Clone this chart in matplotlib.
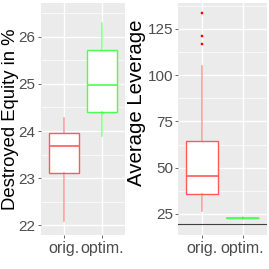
import matplotlib
matplotlib.use("Agg")
import matplotlib.pyplot as plt
from matplotlib.ticker import MultipleLocator

plt.rcParams['font.family'] = ['Liberation Sans', 'DejaVu Sans']

categories = ["orig.", "optim."]

# Destroyed equity (%) box stats: whislo, q1, median, q3, whishi
equity_whislo = [22.08, 23.89]
equity_q1 = [23.10, 24.40]
equity_med = [23.68, 24.97]
equity_q3 = [23.96, 25.72]
equity_whishi = [24.28, 26.30]
equity_fliers = [[], []]

# Average leverage box stats
lev_whislo = [26.8, 23.0]
lev_q1 = [35.8, 23.0]
lev_med = [45.7, 23.0]
lev_q3 = [64.6, 23.0]
lev_whishi = [105.0, 23.0]
lev_fliers = [[116.7, 120.8, 133.5], [23.0]]
lev_hline = 19.4

colors = ["#FF5A5A", "#4DFF4D"]
flier_colors = ["#FF0000", "#00EE00"]


def make_stats(lo, q1, med, q3, hi, fl):
    return [dict(whislo=lo[i], q1=q1[i], med=med[i], q3=q3[i], whishi=hi[i],
                 fliers=fl[i], label=categories[i]) for i in range(len(categories))]


def style(ax, ylim, major, ylabel, lsize, lcoords):
    ax.set_facecolor("#EBEBEB")
    for s in ax.spines.values():
        s.set_visible(False)
    ax.set_ylim(*ylim)
    ax.set_xlim(0.4, 2.6)
    ax.yaxis.set_major_locator(MultipleLocator(major))
    ax.yaxis.set_minor_locator(MultipleLocator(major / 2))
    ax.grid(True, which="major", color="white", linewidth=1.0)
    ax.grid(True, which="minor", axis="y", color="white", linewidth=0.5)
    ax.set_axisbelow(True)
    ax.tick_params(axis="y", which="major", colors="#4D4D4D", labelsize=11,
                   length=2.5, width=0.6, pad=1.2)
    ax.tick_params(axis="x", which="major", colors="#4D4D4D", labelsize=11.5,
                   length=2.5, width=0.6, pad=1.5)
    ax.tick_params(which="minor", length=0)
    ax.set_ylabel(ylabel, fontsize=lsize, color="black")
    ax.yaxis.set_label_coords(*lcoords)


def draw(ax, stats):
    for i, st in enumerate(stats):
        ax.bxp([st], positions=[i + 1], widths=0.8, patch_artist=True,
               showfliers=True,
               boxprops=dict(facecolor="white", edgecolor=colors[i], linewidth=1.0),
               medianprops=dict(color=colors[i], linewidth=1.2),
               whiskerprops=dict(color=colors[i], linewidth=1.1, alpha=0.6),
               capprops=dict(linewidth=0),
               flierprops=dict(marker="s", markersize=1.6, markerfacecolor=flier_colors[i],
                               markeredgecolor=flier_colors[i], markeredgewidth=0.3,
                               linestyle="none"))
    ax.set_xticks([1, 2])
    ax.set_xticklabels(categories)


fig = plt.figure(figsize=(2.69, 2.69), dpi=100)
ax1 = fig.add_axes([0.152, 0.126, 0.313, 0.863])
ax2 = fig.add_axes([0.663, 0.126, 0.328, 0.863])

draw(ax1, make_stats(equity_whislo, equity_q1, equity_med, equity_q3, equity_whishi, equity_fliers))
style(ax1, (21.79, 26.72), 1, "Destroyed Equity in %", 13.3, (-0.26, 0.5))

draw(ax2, make_stats(lev_whislo, lev_q1, lev_med, lev_q3, lev_whishi, lev_fliers))
style(ax2, (13.6, 138.9), 25, "Average Leverage", 14.7, (-0.37, 0.569))
ax2.axhline(lev_hline, color="#404040", linewidth=0.8)

fig.savefig("out.png", dpi=100)
